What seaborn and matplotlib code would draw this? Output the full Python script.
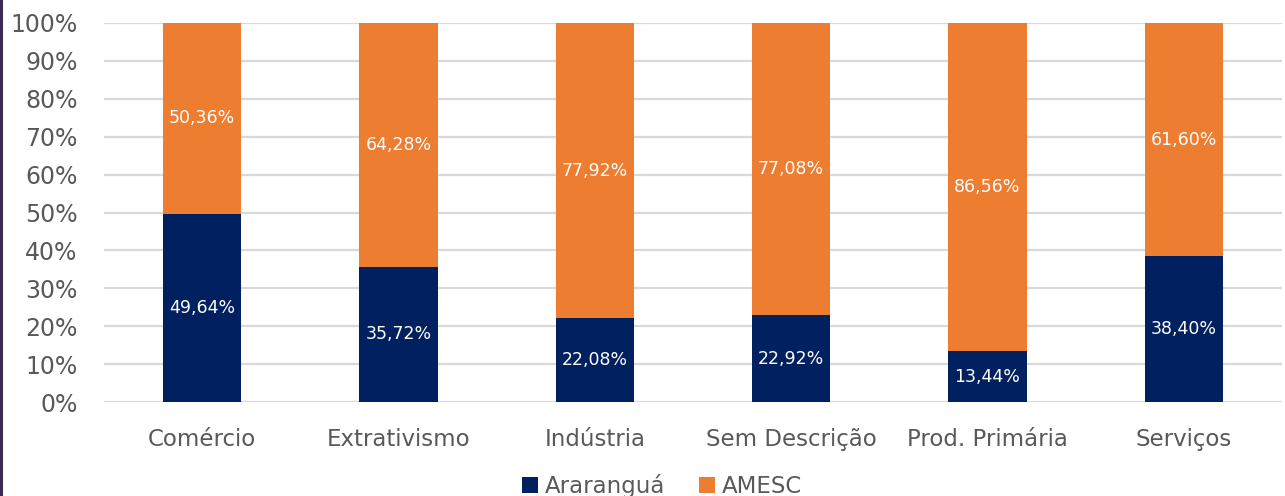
import matplotlib
matplotlib.use("Agg")
import matplotlib.pyplot as plt
from matplotlib.patches import Patch
from matplotlib.lines import Line2D
import seaborn as sns
import pandas as pd
import numpy as np

categories = ["Comércio", "Extrativismo", "Indústria", "Sem Descrição", "Prod. Primária", "Serviços"]
ararangua = [49.64, 35.72, 22.08, 22.92, 13.44, 38.40]
amesc = [50.36, 64.28, 77.92, 77.08, 86.56, 61.60]
yticks = [0, 10, 20, 30, 40, 50, 60, 70, 80, 90, 100]

NAVY = "#002060"
ORANGE = "#ED7D31"
GREY_TXT = "#595959"

sns.set_theme(style="white")
plt.rcParams["font.family"] = ["DejaVu Sans"]

df = pd.DataFrame({
    "cat": categories,
    "ara": ararangua,
    "ame": amesc,
})
df["total"] = df["ara"] + df["ame"]

fig = plt.figure(figsize=(12.85, 4.96), dpi=100)
ax = fig.add_axes([104 / 1285, 1 - 402 / 496, (1282 - 104) / 1285, (402 - 23) / 496])

sns.barplot(data=df, x="cat", y="total", color=ORANGE, width=0.4, ax=ax,
            saturation=1, linewidth=0, zorder=3)
sns.barplot(data=df, x="cat", y="ara", color=NAVY, width=0.4, ax=ax,
            saturation=1, linewidth=0, zorder=4)

def fmt(v):
    return f"{v:.2f}".replace(".", ",") + "%"

for i, (a, m) in enumerate(zip(ararangua, amesc)):
    ax.text(i, a / 2, fmt(a), ha="center", va="center", color="white", fontsize=12.5, zorder=5)
    ax.text(i, a + m / 2, fmt(m), ha="center", va="center", color="white", fontsize=12.5, zorder=5)

ax.set_ylim(0, 100)
ax.set_xlim(-0.5, len(categories) - 0.5)
ax.set_yticks(yticks)
ax.set_yticklabels([f"{t}%" for t in yticks])
ax.yaxis.grid(True, color="#D9D9D9", linewidth=1.6, zorder=0)
ax.set_axisbelow(True)
ax.set_xlabel("")
ax.set_ylabel("")
for s in ax.spines.values():
    s.set_visible(False)
ax.tick_params(axis="y", length=0, pad=19, labelsize=17, labelcolor=GREY_TXT)
ax.tick_params(axis="x", length=0, pad=19, labelsize=16.5, labelcolor=GREY_TXT)

handles = [Patch(facecolor=NAVY, edgecolor="none", label="Araranguá"),
           Patch(facecolor=ORANGE, edgecolor="none", label="AMESC")]
leg = fig.legend(handles=handles, loc="center", bbox_to_anchor=(662 / 1285, 1 - 486 / 496),
                 ncol=2, frameon=False, fontsize=16.5, handlelength=0.7, handleheight=0.7,
                 handletextpad=0.3, columnspacing=1.5, borderaxespad=0)
for t in leg.get_texts():
    t.set_color(GREY_TXT)

fig.add_artist(Line2D([1.2 / 1285, 1.2 / 1285], [0, 1], color="#3B2A55", linewidth=2.2,
                      transform=fig.transFigure))

fig.savefig("out.png", dpi=100)
